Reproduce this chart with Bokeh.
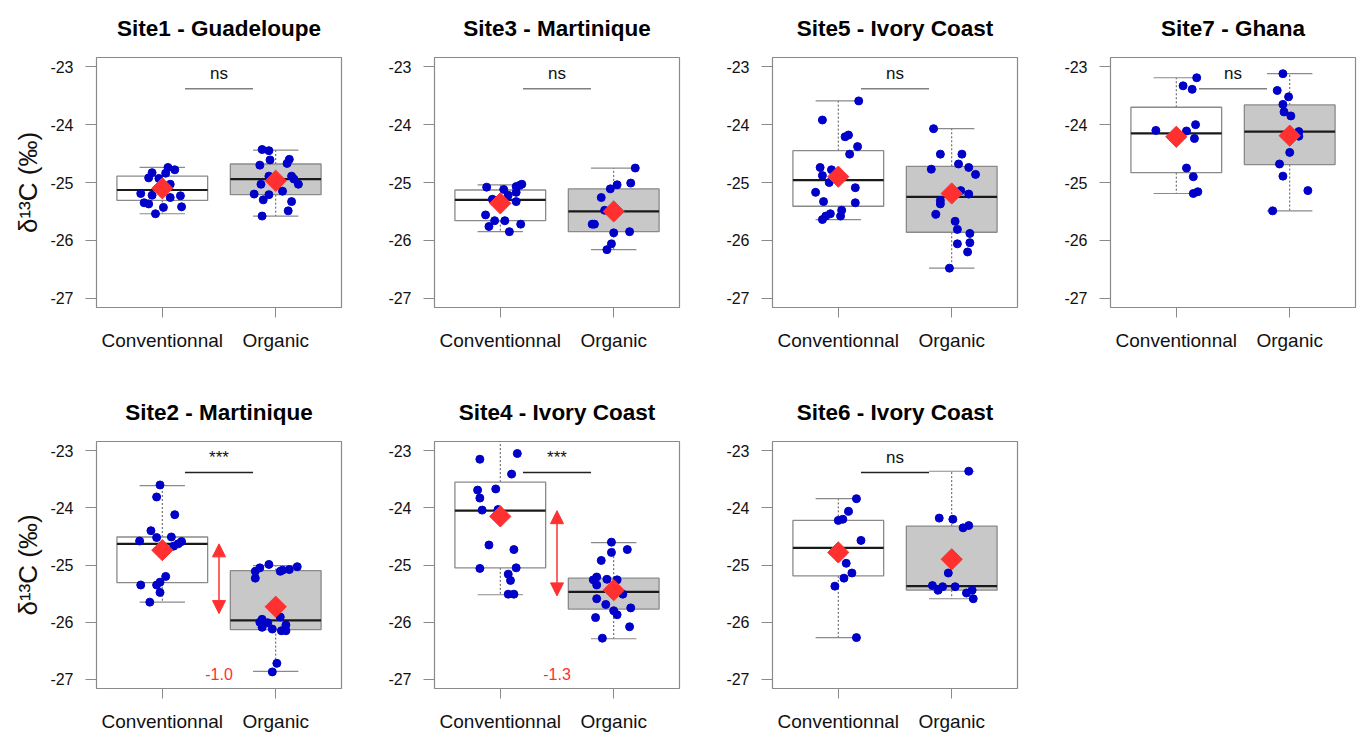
import numpy as np
from bokeh.plotting import figure
from bokeh.models import Range1d, FixedTicker, Arrow, NormalHead
from bokeh.layouts import column, row
from bokeh.embed import file_html
from bokeh.resources import INLINE
from bokeh.core.properties import value

# ---------------- data ----------------
groups = ["Conventionnal", "Organic"]
group_pos = [1, 2]
y_ticks = [-23, -24, -25, -26, -27]
y_label = "δ¹³C (‰)"

titles = ["Site1 - Guadeloupe", "Site3 - Martinique", "Site5 - Ivory Coast", "Site7 - Ghana",
          "Site2 - Martinique", "Site4 - Ivory Coast", "Site6 - Ivory Coast"]
sig_labels = ["ns", "ns", "ns", "ns", "***", "***", "ns"]

# jittered x / y of each observation
s1_conv_x = [1.05, 1.11, 0.91, 1.03, 0.88, 0.97, 1.07, 0.81, 0.91, 1.07, 1.16, 0.84, 0.88, 1.01, 1.17, 0.94]
s1_conv_y = [-24.74, -24.78, -24.83, -24.84, -24.92, -24.93, -25.03, -25.19, -25.22, -25.26, -25.23, -25.35, -25.37, -25.43, -25.42, -25.54]
s1_org_x = [1.88, 1.94, 1.95, 2.12, 2.10, 1.86, 1.94, 2.14, 2.16, 2.20, 1.87, 2.06, 1.81, 1.94, 1.89, 2.14, 2.11, 1.88]
s1_org_y = [-24.43, -24.45, -24.61, -24.60, -24.67, -24.70, -24.89, -24.89, -24.94, -25.03, -25.03, -25.15, -25.20, -25.21, -25.30, -25.33, -25.49, -25.58]

s3_conv_x = [0.88, 1.19, 1.14, 1.17, 1.03, 1.07, 1.14, 0.93, 1.14, 0.87, 0.95, 1.04, 0.90, 1.18, 1.08]
s3_conv_y = [-25.08, -25.03, -25.07, -25.05, -25.12, -25.22, -25.17, -25.29, -25.33, -25.56, -25.66, -25.66, -25.76, -25.72, -25.85]
s3_org_x = [2.19, 2.15, 2.03, 1.97, 1.89, 1.92, 1.81, 1.83, 2.00, 2.14, 1.98, 1.94]
s3_org_y = [-24.75, -25.01, -25.04, -25.11, -25.26, -25.48, -25.72, -25.72, -25.87, -25.85, -26.06, -26.16]

s5_conv_x = [1.18, 0.86, 1.09, 1.06, 1.17, 1.10, 0.84, 0.94, 0.86, 0.92, 1.15, 0.80, 0.87, 1.15, 1.03, 1.02, 0.93, 0.89, 0.86]
s5_conv_y = [-23.59, -23.92, -24.18, -24.21, -24.38, -24.51, -24.74, -24.78, -24.88, -25.00, -25.09, -25.17, -25.33, -25.35, -25.48, -25.58, -25.54, -25.58, -25.64]
s5_org_x = [1.84, 1.90, 2.09, 2.06, 1.82, 2.15, 2.21, 2.08, 2.15, 1.90, 1.90, 1.86, 2.03, 2.05, 2.16, 2.05, 2.16, 2.14, 1.98]
s5_org_y = [-24.07, -24.51, -24.51, -24.68, -24.77, -24.74, -24.86, -25.14, -25.20, -25.31, -25.37, -25.55, -25.67, -25.81, -25.88, -26.06, -26.04, -26.20, -26.48]

s7_conv_x = [1.18, 1.06, 1.14, 1.17, 0.82, 1.09, 1.16, 1.09, 1.15, 1.19, 1.15]
s7_conv_y = [-23.19, -23.33, -23.39, -24.00, -24.10, -24.11, -24.24, -24.75, -24.90, -25.16, -25.19]
s7_org_x = [1.94, 1.89, 1.99, 1.94, 1.95, 2.01, 2.08, 2.08, 2.00, 1.91, 1.94, 2.16, 1.85]
s7_org_y = [-23.12, -23.41, -23.52, -23.65, -23.78, -23.85, -24.12, -24.20, -24.48, -24.68, -24.89, -25.14, -25.49]

s2_conv_x = [0.98, 0.95, 1.11, 0.90, 1.08, 0.95, 0.80, 1.17, 1.14, 1.10, 1.03, 0.98, 0.81, 0.95, 0.98, 0.89]
s2_conv_y = [-23.60, -23.81, -24.12, -24.40, -24.51, -24.52, -24.58, -24.59, -24.63, -24.67, -25.20, -25.30, -25.35, -25.35, -25.48, -25.65]
s2_org_x = [1.94, 1.86, 2.19, 2.12, 2.06, 2.04, 1.82, 1.82, 2.04, 1.88, 1.93, 1.86, 2.09, 1.88, 1.97, 2.05, 2.09, 2.01, 1.97]
s2_org_y = [-24.99, -25.05, -25.03, -25.08, -25.09, -25.11, -25.11, -25.23, -25.91, -25.95, -26.01, -26.00, -26.05, -26.09, -26.12, -26.15, -26.15, -26.72, -26.87]

s4_conv_x = [1.15, 0.82, 1.10, 0.80, 0.96, 0.82, 0.84, 0.98, 0.90, 1.12, 0.82, 1.14, 1.07, 1.09, 1.07, 1.12]
s4_conv_y = [-23.05, -23.15, -23.41, -23.69, -23.67, -23.83, -24.04, -24.03, -24.65, -24.73, -25.06, -25.05, -25.16, -25.27, -25.51, -25.51]
s4_org_x = [1.98, 1.98, 2.12, 1.89, 1.82, 1.85, 1.94, 2.03, 1.85, 2.08, 1.85, 1.93, 2.15, 2.00, 2.03, 1.84, 2.14, 1.90]
s4_org_y = [-24.60, -24.78, -24.73, -24.92, -25.26, -25.21, -25.25, -25.26, -25.35, -25.51, -25.59, -25.69, -25.75, -25.80, -25.87, -25.92, -26.08, -26.28]

s6_conv_x = [1.16, 1.09, 1.04, 1.00, 1.20, 1.07, 1.12, 1.05, 0.97, 1.16]
s6_conv_y = [-23.84, -24.06, -24.20, -24.22, -24.57, -24.97, -25.14, -25.23, -25.37, -26.27]
s6_org_x = [2.15, 1.89, 2.01, 2.15, 2.10, 1.97, 1.83, 1.92, 1.88, 2.03, 2.18, 2.13, 2.19]
s6_org_y = [-23.36, -24.18, -24.20, -24.31, -24.35, -25.14, -25.36, -25.38, -25.44, -25.38, -25.44, -25.49, -25.59]

# box statistics [lower whisker, Q1, median, Q3, upper whisker] for (Conventionnal, Organic)
s1_box = [[-25.54, -25.31, -25.13, -24.89, -24.74], [-25.58, -25.21, -24.94, -24.68, -24.44]]
s3_box = [[-25.85, -25.66, -25.30, -25.13, -25.04], [-26.16, -25.85, -25.50, -25.11, -24.75]]
s5_box = [[-25.64, -25.41, -24.96, -24.45, -23.59], [-26.48, -25.86, -25.25, -24.72, -24.07]]
s7_box = [[-25.19, -24.83, -24.15, -23.70, -23.19], [-25.49, -24.69, -24.12, -23.66, -23.12]]
s2_box = [[-25.65, -25.31, -24.63, -24.51, -23.61], [-26.86, -26.13, -25.97, -25.10, -25.01]]
s4_box = [[-25.52, -25.05, -24.05, -23.55, -22.70], [-26.29, -25.77, -25.47, -25.23, -24.61]]
s6_box = [[-26.27, -25.19, -24.70, -24.22, -23.84], [-25.59, -25.44, -25.37, -24.32, -23.36]]

# group means (red diamonds)
s1_mean = [-25.10, -24.97]
s3_mean = [-25.36, -25.50]
s5_mean = [-24.90, -25.19]
s7_mean = [-24.21, -24.19]
s2_mean = [-24.74, -25.73]
s4_mean = [-24.15, -25.44]
s6_mean = [-24.78, -24.90]

# difference annotations (arrow span and label)
s2_diff_span = [-24.63, -25.85]
s2_diff_label = "-1.0"
s4_diff_span = [-24.05, -25.54]
s4_diff_label = "-1.3"

# significance bar / label levels
sig_bar_x = [1.2, 1.8]
sig_bar_y = -23.38
sig_text_y = -23.12
diff_x = 1.5
diff_text_y = -26.91

# ---------------- styling ----------------
FONT = "Liberation Sans"
BLUE = "#0000C8"
RED = "#FF3030"
GREY_LINE = "#8a8a8a"
BOX_FILL = ["#FFFFFF", "#C8C8C8"]


def panel(title, cx, cy, ox, oy, boxes, means, sig, ylabel, height, top, bottom,
          sig_color, first_col, diff_span=None, diff_label=None):
    left = 96 if first_col else 89
    width = 345 if first_col else 338
    p = figure(width=width, height=height, output_backend="svg", toolbar_location=None,
               x_range=Range1d(0.42, 2.58), y_range=Range1d(-27.16, -22.84),
               min_border_left=left, min_border_right=4, min_border_top=top,
               min_border_bottom=bottom, background_fill_color="white",
               border_fill_color="white")
    p.outline_line_color = GREY_LINE
    p.outline_line_width = 1.2
    p.xgrid.visible = False
    p.ygrid.visible = False

    p.title.text = title
    p.title.align = "center"
    p.title.vertical_align = "top"
    p.title.text_font = FONT
    p.title.text_font_size = "22.5px"
    p.title.text_font_style = "bold"
    p.title.text_color = "black"
    p.title.standoff = 29

    ya = p.yaxis[0]
    ya.ticker = FixedTicker(ticks=y_ticks)
    ya.major_label_overrides = {t: str(t) for t in y_ticks}
    ya.axis_line_color = None
    ya.major_tick_out = 11
    ya.major_tick_in = 0
    ya.minor_tick_out = 0
    ya.minor_tick_in = 0
    ya.major_tick_line_color = GREY_LINE
    ya.major_label_standoff = 12
    ya.major_label_text_font = FONT
    ya.major_label_text_font_size = "16px"
    ya.major_label_text_color = "#111111"
    if ylabel:
        ya.axis_label = y_label
        ya.axis_label_text_font = FONT
        ya.axis_label_text_font_size = "26px"
        ya.axis_label_text_font_style = "normal"
        ya.axis_label_text_color = "#111111"
        ya.axis_label_standoff = 4

    xa = p.xaxis[0]
    xa.ticker = FixedTicker(ticks=group_pos)
    xa.major_label_overrides = {g: n for g, n in zip(group_pos, groups)}
    xa.axis_line_color = None
    xa.major_tick_out = 10
    xa.major_tick_in = 0
    xa.minor_tick_out = 0
    xa.minor_tick_in = 0
    xa.major_tick_line_color = GREY_LINE
    xa.major_label_standoff = 12
    xa.major_label_text_font = FONT
    xa.major_label_text_font_size = "19px"
    xa.major_label_text_color = "#111111"

    half = 0.4
    cap = 0.2
    for i, (pos, st) in enumerate(zip(group_pos, boxes)):
        lo, q1, med, q3, hi = st
        # whiskers (dotted)
        p.segment(x0=[pos, pos], y0=[q3, q1], x1=[pos, pos], y1=[hi, lo],
                  line_color="#555555", line_width=1, line_dash="2 2")
        # caps
        p.segment(x0=[pos - cap, pos - cap], y0=[hi, lo], x1=[pos + cap, pos + cap],
                  y1=[hi, lo], line_color=GREY_LINE, line_width=1.2)
        # box
        p.quad(left=[pos - half], right=[pos + half], bottom=[q1], top=[q3],
               fill_color=BOX_FILL[i], line_color=GREY_LINE, line_width=1.3)
        # median
        p.segment(x0=[pos - half], y0=[med], x1=[pos + half], y1=[med],
                  line_color="#1a1a1a", line_width=2.2)

    # observations
    p.scatter(x=cx + ox, y=cy + oy, size=8, marker="circle",
              fill_color=BLUE, line_color=BLUE)
    # means
    p.scatter(x=group_pos, y=means, marker="square", angle=np.pi / 4, size=15,
              fill_color=RED, line_color=RED)

    # significance bar and label
    p.segment(x0=[sig_bar_x[0]], y0=[sig_bar_y], x1=[sig_bar_x[1]], y1=[sig_bar_y],
              line_color=sig_color, line_width=1.5)
    p.text(x=[sum(sig_bar_x) / 2], y=[sig_text_y], text=[sig], text_font=value(FONT),
           text_font_size="17px", text_align="center", text_baseline="middle",
           text_color="#111111")

    if diff_span is not None:
        p.add_layout(Arrow(x_start=diff_x, y_start=diff_span[0], x_end=diff_x,
                           y_end=diff_span[1], line_color=RED, line_width=1.5,
                           start=NormalHead(size=13, fill_color=RED, line_color=RED),
                           end=NormalHead(size=13, fill_color=RED, line_color=RED)))
        p.text(x=[diff_x], y=[diff_text_y], text=[diff_label], text_font=value(FONT),
               text_font_size="16px", text_align="center", text_baseline="middle",
               text_color=RED)
    return p


T1, H1, B1 = 57, 384, 77
T2, H2, B2 = 57, 350, 45
p1 = panel(titles[0], s1_conv_x, s1_conv_y, s1_org_x, s1_org_y, s1_box, s1_mean, sig_labels[0], True, H1, T1, B1, "#808080", True)
p3 = panel(titles[1], s3_conv_x, s3_conv_y, s3_org_x, s3_org_y, s3_box, s3_mean, sig_labels[1], False, H1, T1, B1, "#808080", False)
p5 = panel(titles[2], s5_conv_x, s5_conv_y, s5_org_x, s5_org_y, s5_box, s5_mean, sig_labels[2], False, H1, T1, B1, "#808080", False)
p7 = panel(titles[3], s7_conv_x, s7_conv_y, s7_org_x, s7_org_y, s7_box, s7_mean, sig_labels[3], False, H1, T1, B1, "#808080", False)
p2 = panel(titles[4], s2_conv_x, s2_conv_y, s2_org_x, s2_org_y, s2_box, s2_mean, sig_labels[4], True, H2, T2, B2, "#222222", True,
           s2_diff_span, s2_diff_label)
p4 = panel(titles[5], s4_conv_x, s4_conv_y, s4_org_x, s4_org_y, s4_box, s4_mean, sig_labels[5], False, H2, T2, B2, "#222222", False,
           s4_diff_span, s4_diff_label)
p6 = panel(titles[6], s6_conv_x, s6_conv_y, s6_org_x, s6_org_y, s6_box, s6_mean, sig_labels[6], False, H2, T2, B2, "#222222", False)

layout = column(row(p1, p3, p5, p7), row(p2, p4, p6))
open("out.html", "w").write(file_html(layout, INLINE))
